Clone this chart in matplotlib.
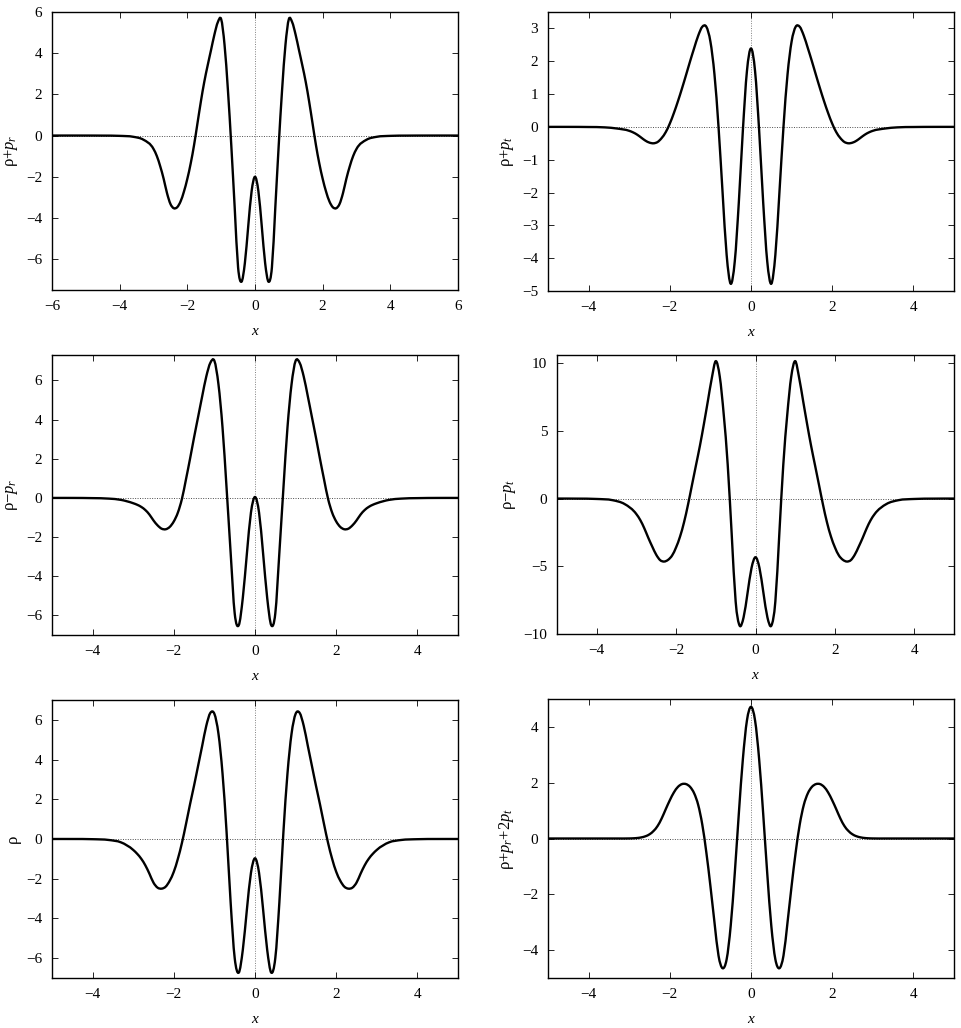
import numpy as np
import matplotlib.pyplot as plt
from matplotlib.path import Path
from matplotlib.patches import PathPatch

plt.rcParams['font.family'] = ['Liberation Serif', 'DejaVu Serif']
plt.rcParams['mathtext.fontset'] = 'custom'
plt.rcParams['mathtext.rm'] = 'Liberation Serif'
plt.rcParams['mathtext.it'] = 'Liberation Serif:italic'

# sample positions read along the x axis
x = [-5.0, -4.5, -4.0, -3.6, -3.3,
     -3.0, -2.9, -2.8, -2.7, -2.6, -2.5, -2.4, -2.3, -2.2, -2.1,
     -2.0, -1.9, -1.8, -1.7, -1.6, -1.5, -1.4, -1.3, -1.2, -1.1,
     -1.0, -0.9, -0.8, -0.7, -0.6, -0.5, -0.4, -0.3, -0.2, -0.1,
     0.0,
     0.1, 0.2, 0.3, 0.4, 0.5, 0.6, 0.7, 0.8, 0.9, 1.0,
     1.1, 1.2, 1.3, 1.4, 1.5, 1.6, 1.7, 1.8, 1.9, 2.0,
     2.1, 2.2, 2.3, 2.4, 2.5, 2.6, 2.7, 2.8, 2.9, 3.0,
     3.3, 3.6, 4.0, 4.5, 5.0]
x_wide = [-6.0] + x + [6.0]

# rho + p_r  (on x_wide)
rho_plus_pr = [0.0, 0.0, -0.003, -0.015, -0.06, -0.2,
               -0.65, -1.0, -1.5, -2.1, -2.8, -3.32, -3.53, -3.48, -3.2, -2.72,
               -2.1, -1.35, -0.45, 0.6, 1.65, 2.6, 3.4, 4.15, 4.9, 5.5,
               5.65, 4.4, 2.2, -0.5, -3.5, -6.4, -7.1, -6.2, -4.4, -2.7,
               -2.0,
               -2.7, -4.4, -6.2, -7.1, -6.4, -3.5, -0.5, 2.2, 4.4, 5.65,
               5.5, 4.9, 4.15, 3.4, 2.6, 1.65, 0.6, -0.45, -1.35, -2.1,
               -2.72, -3.2, -3.48, -3.53, -3.32, -2.8, -2.1, -1.5, -1.0, -0.65,
               -0.2, -0.06, -0.015, -0.003, 0.0, 0.0]

# rho + p_t
rho_plus_pt = [0.0, 0.0, -0.004, -0.015, -0.05,
               -0.12, -0.17, -0.24, -0.33, -0.42, -0.48, -0.5, -0.46, -0.34, -0.16,
               0.1, 0.42, 0.78, 1.17, 1.58, 2.0, 2.4, 2.78, 3.05, 3.05,
               2.6, 1.6, 0.0, -2.0, -3.9, -4.78, -4.1, -2.3, -0.1, 1.7,
               2.39,
               1.7, -0.1, -2.3, -4.1, -4.78, -3.9, -2.0, 0.0, 1.6, 2.6,
               3.05, 3.05, 2.78, 2.4, 2.0, 1.58, 1.17, 0.78, 0.42, 0.1,
               -0.16, -0.34, -0.46, -0.5, -0.48, -0.42, -0.33, -0.24, -0.17, -0.12,
               -0.05, -0.015, -0.004, 0.0, 0.0]

# rho - p_r
rho_minus_pr = [0.0, 0.0, -0.01, -0.035, -0.1,
                -0.27, -0.35, -0.46, -0.62, -0.85, -1.15, -1.4, -1.57, -1.6, -1.48,
                -1.2, -0.75, -0.05, 0.95, 2.0, 3.1, 4.15, 5.2, 6.2, 6.9,
                7.0, 5.8, 3.6, 0.5, -2.8, -5.9, -6.5, -5.1, -2.85, -0.75,
                0.05,
                -0.75, -2.85, -5.1, -6.5, -5.9, -2.8, 0.5, 3.6, 5.8, 7.0,
                6.9, 6.2, 5.2, 4.15, 3.1, 2.0, 0.95, -0.05, -0.75, -1.2,
                -1.48, -1.6, -1.57, -1.4, -1.15, -0.85, -0.62, -0.46, -0.35, -0.27,
                -0.1, -0.035, -0.01, 0.0, 0.0]

# rho - p_t
rho_minus_pt = [0.0, -0.005, -0.03, -0.12, -0.4,
                -1.15, -1.6, -2.2, -2.9, -3.55, -4.15, -4.55, -4.65, -4.52, -4.2,
                -3.6, -2.8, -1.75, -0.45, 1.0, 2.45, 3.9, 5.5, 7.2, 8.9,
                10.15, 9.0, 6.2, 2.5, -2.6, -7.6, -9.38, -8.77, -6.97, -5.12,
                -4.33,
                -5.12, -6.97, -8.77, -9.38, -7.6, -2.6, 2.5, 6.2, 9.0, 10.15,
                8.9, 7.2, 5.5, 3.9, 2.45, 1.0, -0.45, -1.75, -2.8, -3.6,
                -4.2, -4.52, -4.65, -4.55, -4.15, -3.55, -2.9, -2.2, -1.6, -1.15,
                -0.4, -0.12, -0.03, -0.005, 0.0]

# rho
rho = [0.0, 0.0, -0.01, -0.05, -0.17,
       -0.55, -0.75, -1.0, -1.33, -1.75, -2.2, -2.45, -2.5, -2.4, -2.1,
       -1.65, -1.0, -0.2, 0.75, 1.75, 2.7, 3.7, 4.7, 5.7, 6.35,
       6.3, 5.3, 3.3, 0.35, -3.2, -6.0, -6.73, -5.58, -3.56, -1.71,
       -0.97,
       -1.71, -3.56, -5.58, -6.73, -6.0, -3.2, 0.35, 3.3, 5.3, 6.3,
       6.35, 5.7, 4.7, 3.7, 2.7, 1.75, 0.75, -0.2, -1.0, -1.65,
       -2.1, -2.4, -2.5, -2.45, -2.2, -1.75, -1.33, -1.0, -0.75, -0.55,
       -0.17, -0.05, -0.01, 0.0, 0.0]

# rho + p_r + 2 p_t
rho_pr_2pt = [0.0, 0.0, 0.0, 0.0, 0.0,
              0.002, 0.007, 0.018, 0.04, 0.08, 0.15, 0.27, 0.45, 0.72, 1.05,
              1.37, 1.65, 1.85, 1.95, 1.95, 1.85, 1.62, 1.2, 0.5, -0.5,
              -1.7, -3.0, -4.2, -4.65, -4.33, -3.13, -1.25, 0.89, 2.85, 4.23,
              4.72,
              4.23, 2.85, 0.89, -1.25, -3.13, -4.33, -4.65, -4.2, -3.0, -1.7,
              -0.5, 0.5, 1.2, 1.62, 1.85, 1.95, 1.95, 1.85, 1.65, 1.37,
              1.05, 0.72, 0.45, 0.27, 0.15, 0.08, 0.04, 0.018, 0.007, 0.002,
              0.0, 0.0, 0.0, 0.0, 0.0]

W, H = 961, 1028
fig = plt.figure(figsize=(W / 100, H / 100), dpi=100)

def box(l, t, r, b):
    return [l / W, 1 - b / H, (r - l) / W, (b - t) / H]

def smooth_path(xd, yd):
    # cubic Hermite segments through the read points, drawn as Bezier curves
    xa = np.asarray(xd, float)
    ya = np.asarray(yd, float)
    m = np.gradient(ya, xa)
    verts = [(xa[0], ya[0])]
    codes = [Path.MOVETO]
    for i in range(len(xa) - 1):
        h = xa[i + 1] - xa[i]
        verts += [(xa[i] + h / 3, ya[i] + m[i] * h / 3),
                  (xa[i + 1] - h / 3, ya[i + 1] - m[i + 1] * h / 3),
                  (xa[i + 1], ya[i + 1])]
        codes += [Path.CURVE4] * 3
    return Path(verts, codes)

panels = [
    (box(52, 12, 458, 290), x_wide, rho_plus_pr, 'ρ+$p_r$', (-6, 6), (-7.5, 6),
     [-6, -4, -2, 0, 2, 4, 6], [-6, -4, -2, 0, 2, 4, 6]),
    (box(548, 12, 954, 291), x, rho_plus_pt, 'ρ+$p_t$', (-5, 5), (-5, 3.5),
     [-4, -2, 0, 2, 4], [-5, -4, -3, -2, -1, 0, 1, 2, 3]),
    (box(52, 355, 458, 635), x, rho_minus_pr, 'ρ−$p_r$', (-5, 5), (-7, 7.3),
     [-4, -2, 0, 2, 4], [-6, -4, -2, 0, 2, 4, 6]),
    (box(557, 355, 954, 634), x, rho_minus_pt, 'ρ−$p_t$', (-5, 5), (-10, 10.6),
     [-4, -2, 0, 2, 4], [-10, -5, 0, 5, 10]),
    (box(52, 700, 458, 978), x, rho, 'ρ', (-5, 5), (-7, 7),
     [-4, -2, 0, 2, 4], [-6, -4, -2, 0, 2, 4, 6]),
    (box(548, 699, 954, 978), x, rho_pr_2pt, 'ρ+$p_r$+2$p_t$', (-5, 5), (-5, 5),
     [-4, -2, 0, 2, 4], [-4, -2, 0, 2, 4]),
]

for pos, xd, yd, ylab, xl, yl, xt, yt in panels:
    ax = fig.add_axes(pos)
    ax.axhline(0, color='0.3', lw=0.7, ls=(0, (1, 1.5)), zorder=1)
    ax.axvline(0, color='0.5', lw=0.7, ls=(0, (1, 1.5)), zorder=1)
    ax.add_patch(PathPatch(smooth_path(xd, yd), fill=False, edgecolor='black',
                           lw=1.7, zorder=3, capstyle='round', joinstyle='round'))
    ax.set_xlim(xl)
    ax.set_ylim(yl)
    ax.set_xticks(xt)
    ax.set_yticks(yt)
    ax.tick_params(direction='in', top=True, right=True, length=4, width=0.6,
                   labelsize=11, pad=7)
    for s in ax.spines.values():
        s.set_linewidth(1.0)
    ax.set_xlabel('$x$', fontsize=11)
    ax.xaxis.set_label_coords(0.5, -0.125)
    ax.set_ylabel(ylab, fontsize=12)

fig.savefig('out.png', dpi=100)
